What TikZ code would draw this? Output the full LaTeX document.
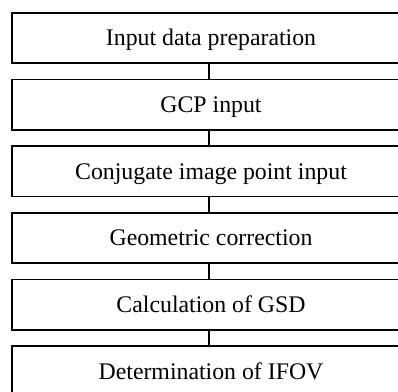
\documentclass[tikz,border=0pt]{standalone}
\usepackage{fontspec}
\setmainfont{Liberation Serif}
\begin{document}
\begin{tikzpicture}[x=1pt,y=1pt,
  stepbox/.style={draw=black, line width=1.7pt, minimum width=398pt, minimum height=50.6pt,
    inner sep=0pt, text height=15.8pt, text depth=0pt, anchor=center,
    font=\fontsize{23.8}{28}\selectfont},
  link/.style={draw=black, line width=1.5pt}]
\useasboundingbox (0,0) rectangle (398,-391);
\clip (0,0) rectangle (398,-391);
\node[stepbox] (b1) at (211,-38.0) {Input data preparation};
\node[stepbox] (b2) at (211,-104.7) {GCP input};
\node[stepbox] (b3) at (211,-171.3) {Conjugate image point input};
\node[stepbox] (b4) at (211,-238.0) {Geometric correction};
\node[stepbox] (b5) at (211,-304.7) {Calculation of GSD};
\node[stepbox] (b6) at (211,-371.3) {Determination of IFOV};
\coordinate (cx) at (209,0);
\draw[link] (b1.south -| cx) -- (b2.north -| cx);
\draw[link] (b2.south -| cx) -- (b3.north -| cx);
\draw[link] (b3.south -| cx) -- (b4.north -| cx);
\draw[link] (b4.south -| cx) -- (b5.north -| cx);
\draw[link] (b5.south -| cx) -- (b6.north -| cx);
\end{tikzpicture}
\end{document}
